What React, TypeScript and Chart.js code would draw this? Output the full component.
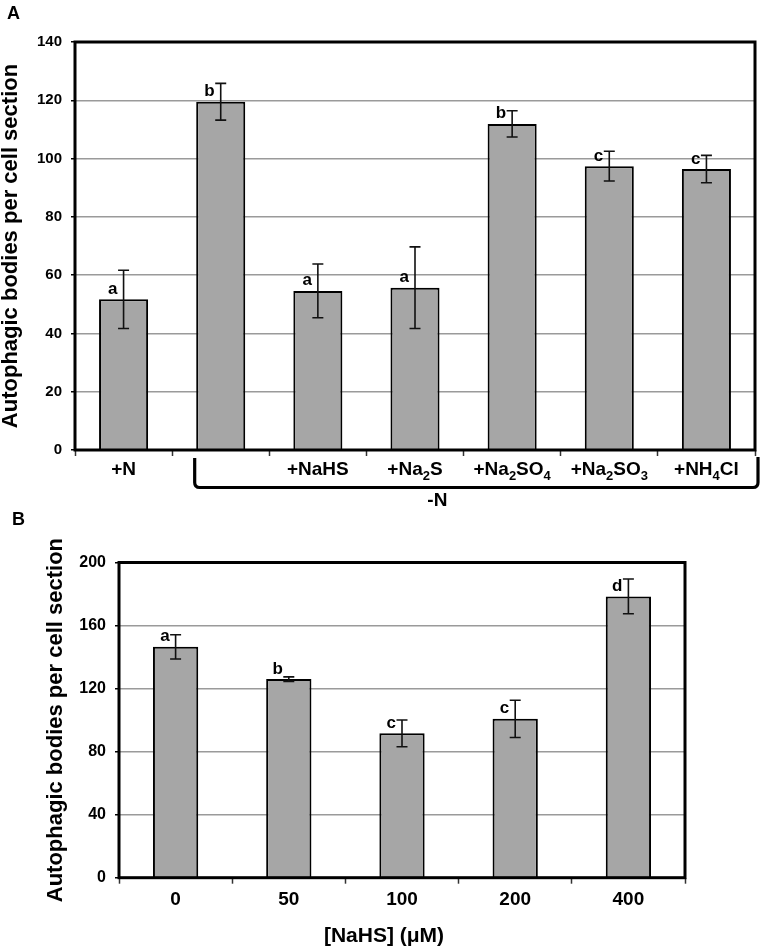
import React, { useEffect, useRef } from 'react';
import { Chart, registerables } from 'chart.js';

Chart.register(...registerables);

const FONT = "'Liberation Sans', Arial, Helvetica, sans-serif";

// ---------- Panel A data ----------
const categoriesA = ['+N', '', '+NaHS', '+Na2S', '+Na2SO4', '+Na2SO3', '+NH4Cl'];
const valuesA = [51.7, 119.5, 54.6, 55.7, 111.9, 97.4, 96.4];
const errorsA = [10.0, 6.3, 9.2, 14.0, 4.5, 5.1, 4.7];
const lettersA = ['a', 'b', 'a', 'a', 'b', 'c', 'c'];
const groupLabelA = '-N';
const groupSpanA = [1, 6];
const yMaxA = 140;
const yStepA = 20;

// ---------- Panel B data ----------
const categoriesB = ['0', '50', '100', '200', '400'];
const valuesB = [146.5, 126.0, 91.6, 100.8, 178.5];
const errorsB = [7.7, 1.4, 8.5, 11.8, 11.0];
const lettersB = ['a', 'b', 'c', 'c', 'd'];
const yMaxB = 200;
const yStepB = 40;

const yTitle = 'Autophagic bodies per cell section';
const xTitleB = '[NaHS] (\u03BCM)';
const panelLabels = ['A', 'B'];

const BAR_FILL = '#a6a6a6';

function drawFrame(chart: any) {
  const { ctx, chartArea: a } = chart;
  ctx.save();
  ctx.strokeStyle = '#000';
  ctx.lineWidth = 3;
  ctx.strokeRect(a.left, a.top, a.right - a.left, a.bottom - a.top);
  ctx.restore();
}

function drawErrorsAndLetters(chart: any, values: number[], errors: number[], letters: string[]) {
  const ctx = chart.ctx;
  const y = chart.scales.y;
  const meta = chart.getDatasetMeta(0);
  ctx.save();
  meta.data.forEach((bar: any, i: number) => {
    const x = bar.x;
    const yt = y.getPixelForValue(values[i] + errors[i]);
    const yb = y.getPixelForValue(values[i] - errors[i]);
    ctx.strokeStyle = '#111';
    ctx.lineWidth = 1.6;
    ctx.beginPath();
    ctx.moveTo(x, yt);
    ctx.lineTo(x, yb);
    ctx.moveTo(x - 5.5, yt);
    ctx.lineTo(x + 5.5, yt);
    ctx.moveTo(x - 5.5, yb);
    ctx.lineTo(x + 5.5, yb);
    ctx.stroke();
    ctx.fillStyle = '#000';
    ctx.font = `bold 17px ${FONT}`;
    ctx.textAlign = 'right';
    ctx.textBaseline = 'alphabetic';
    ctx.fillText(letters[i], x - 6, y.getPixelForValue(values[i]) - 5.5);
  });
  ctx.restore();
}

function drawSubLabel(ctx: CanvasRenderingContext2D, text: string, cx: number, baseline: number) {
  const parts = text.split(/(\d+)/).filter((p) => p !== '');
  const main = `bold 19px ${FONT}`;
  const sub = `bold 13px ${FONT}`;
  let total = 0;
  const widths = parts.map((p) => {
    ctx.font = /^\d+$/.test(p) ? sub : main;
    const w = ctx.measureText(p).width;
    total += w;
    return w;
  });
  let x = cx - total / 2;
  ctx.textAlign = 'left';
  ctx.textBaseline = 'alphabetic';
  parts.forEach((p, i) => {
    const isSub = /^\d+$/.test(p);
    ctx.font = isSub ? sub : main;
    ctx.fillText(p, x, isSub ? baseline + 5 : baseline);
    x += widths[i];
  });
}

const panelAPlugin = {
  id: 'panelA',
  afterDatasetsDraw(chart: any) {
    drawFrame(chart);
    drawErrorsAndLetters(chart, valuesA, errorsA, lettersA);
  },
  afterDraw(chart: any) {
    const { ctx, chartArea: a } = chart;
    const xs = chart.scales.x;
    const meta = chart.getDatasetMeta(0);
    ctx.save();
    ctx.fillStyle = '#000';
    // panel letter
    ctx.font = `bold 18px ${FONT}`;
    ctx.textAlign = 'left';
    ctx.textBaseline = 'alphabetic';
    ctx.fillText(panelLabels[0], 7, 18.5);
    // category labels with subscripts
    categoriesA.forEach((lab, i) => {
      if (!lab) return;
      drawSubLabel(ctx, lab, xs.getPixelForValue(i), a.bottom + 25);
    });
    // bracket for the -N group
    const b0 = meta.data[groupSpanA[0]];
    const left = b0.x - b0.width / 2 - 1.5;
    const right = xs.getPixelForValue(groupSpanA[1]) + (xs.getPixelForValue(1) - xs.getPixelForValue(0)) / 2 + 3;
    const top = a.bottom + 8;
    const bottom = a.bottom + 37.5;
    const r = 5;
    ctx.strokeStyle = '#000';
    ctx.lineWidth = 3.2;
    ctx.beginPath();
    ctx.moveTo(left, top);
    ctx.lineTo(left, bottom - r);
    ctx.quadraticCurveTo(left, bottom, left + r, bottom);
    ctx.lineTo(right - r, bottom);
    ctx.quadraticCurveTo(right, bottom, right, bottom - r);
    ctx.lineTo(right, top - 1);
    ctx.stroke();
    ctx.font = `bold 19px ${FONT}`;
    ctx.textAlign = 'center';
    ctx.fillText(groupLabelA, xs.getPixelForValue(3.23), a.bottom + 55.7);
    ctx.restore();
  },
};

const panelBPlugin = {
  id: 'panelB',
  afterDatasetsDraw(chart: any) {
    drawFrame(chart);
    drawErrorsAndLetters(chart, valuesB, errorsB, lettersB);
  },
  afterDraw(chart: any) {
    const { ctx, chartArea: a } = chart;
    ctx.save();
    ctx.fillStyle = '#000';
    ctx.font = `bold 18px ${FONT}`;
    ctx.textAlign = 'left';
    ctx.textBaseline = 'alphabetic';
    ctx.fillText(panelLabels[1], 12, 16);
    ctx.font = `bold 21px ${FONT}`;
    ctx.textAlign = 'center';
    ctx.fillText(xTitleB, (a.left + a.right) / 2 - 18, a.bottom + 64);
    ctx.restore();
  },
};

function makeConfig(opts: {
  labels: string[];
  values: number[];
  barPct: number;
  yMax: number;
  yStep: number;
  yWidth: number;
  xHeight: number;
  padTop: number;
  padRight: number;
  yTickSize: number;
  titlePad: number;
  showXTicks: boolean;
  plugin: any;
}): any {
  return {
    type: 'bar',
    data: {
      labels: opts.labels,
      datasets: [
        {
          data: opts.values,
          backgroundColor: BAR_FILL,
          borderColor: '#000',
          borderWidth: 2,
          categoryPercentage: 1,
          barPercentage: opts.barPct,
        },
      ],
    },
    options: {
      responsive: false,
      animation: false,
      events: [],
      layout: { padding: { top: opts.padTop, right: opts.padRight, left: 0, bottom: 0 } },
      plugins: { legend: { display: false }, tooltip: { enabled: false } },
      scales: {
        x: {
          offset: true,
          border: { display: false },
          grid: {
            offset: true,
            drawOnChartArea: false,
            drawTicks: true,
            tickLength: 6,
            tickColor: '#333',
            tickWidth: 1.5,
          },
          ticks: {
            display: opts.showXTicks,
            color: '#000',
            padding: 5,
            font: { family: FONT, size: 19, weight: 'bold' },
          },
          afterFit: (s: any) => {
            s.height = opts.xHeight;
          },
        },
        y: {
          min: 0,
          max: opts.yMax,
          border: { display: false },
          grid: {
            color: '#9a9a9a',
            lineWidth: 1.5,
            drawTicks: true,
            tickLength: 4,
            tickColor: '#000',
            tickWidth: 1.5,
          },
          ticks: {
            stepSize: opts.yStep,
            color: '#000',
            padding: 9,
            font: { family: FONT, size: opts.yTickSize, weight: 'bold' },
          },
          title: {
            display: true,
            text: yTitle,
            color: '#000',
            padding: { top: opts.titlePad, bottom: 0 },
            font: { family: FONT, size: 22, weight: 'bold', lineHeight: 1 },
          },
          afterFit: (s: any) => {
            s.width = opts.yWidth;
          },
        },
      },
    },
    plugins: [opts.plugin],
  };
}

export default function App() {
  const refA = useRef<HTMLCanvasElement | null>(null);
  const refB = useRef<HTMLCanvasElement | null>(null);

  useEffect(() => {
    if (!refA.current || !refB.current) return;
    Chart.defaults.font.family = FONT;
    Chart.defaults.color = '#000';
    const chartA = new Chart(
      refA.current,
      makeConfig({
        labels: categoriesA,
        values: valuesA,
        barPct: 0.505,
        yMax: yMaxA,
        yStep: yStepA,
        yWidth: 75,
        xHeight: 59,
        padTop: 42,
        padRight: 8,
        yTickSize: 15,
        titlePad: 0,
        showXTicks: false,
        plugin: panelAPlugin,
      })
    );
    const chartB = new Chart(
      refB.current,
      makeConfig({
        labels: categoriesB,
        values: valuesB,
        barPct: 0.4,
        yMax: yMaxB,
        yStep: yStepB,
        yWidth: 119,
        xHeight: 70.3,
        padTop: 53.5,
        padRight: 78,
        yTickSize: 16,
        titlePad: 45,
        showXTicks: true,
        plugin: panelBPlugin,
      })
    );
    return () => {
      chartA.destroy();
      chartB.destroy();
    };
  }, []);

  return (
    <div style={{ position: 'absolute', left: 0, top: 0, width: 763, height: 948, background: '#fff' }}>
      <canvas ref={refA} width={763} height={509} style={{ position: 'absolute', left: 0, top: 0 }} />
      <canvas ref={refB} width={763} height={439} style={{ position: 'absolute', left: 0, top: 509 }} />
    </div>
  );
}
